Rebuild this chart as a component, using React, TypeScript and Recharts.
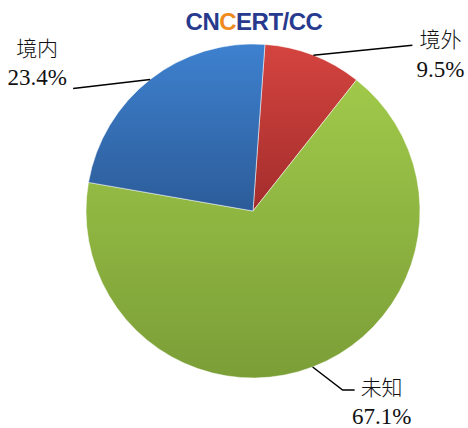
import { PieChart, Pie, Cell } from "recharts";

const categories = ["境外", "未知", "境内"];
const shares = [9.5, 67.1, 23.4];
const gradientIds = ["gRed", "gGreen", "gBlue"];

const data = categories.map((name, i) => ({ name, value: shares[i] }));

const RADIAN = Math.PI / 180;
const CJK_FONT = "Noto Sans CJK SC";
const NUM_FONT = "Liberation Serif";

// leader line layout relative to the arc midpoint of each slice
const layout: Record<string, { elbow: [number, number]; end: [number, number]; tx: number; ty: [number, number] }> = {
    境外: { elbow: [99, -10], end: [99, -10], tx: 28, ty: [2, 32] },
    未知: { elbow: [30, 23], end: [42, 23], tx: 27, ty: [5, 34] },
    境内: { elbow: [-77, 9], end: [-77, 9], tx: -36, ty: [-32, -3] },
};

function renderLabel(props: any) {
    const { cx, cy, midAngle, outerRadius, name, value } = props;
    const x0 = cx + outerRadius * Math.cos(-midAngle * RADIAN);
    const y0 = cy + outerRadius * Math.sin(-midAngle * RADIAN);
    const l = layout[name];
    const ex = x0 + l.elbow[0], ey = y0 + l.elbow[1];
    const x1 = x0 + l.end[0], y1 = y0 + l.end[1];
    return (
        <g>
            <polyline points={`${x0},${y0} ${ex},${ey} ${x1},${y1}`} fill="none" stroke="#000" strokeWidth={1.5} />
            <text x={x1 + l.tx} y={y1 + l.ty[0]} textAnchor="middle" fontFamily={CJK_FONT} fontSize={21} fontWeight={300} fill="#111">{name}</text>
            <text x={x1 + l.tx} y={y1 + l.ty[1]} textAnchor="middle" fontFamily={NUM_FONT} fontSize={23} fill="#111">{value.toFixed(1)}%</text>
        </g>
    );
}

export default function App() {
    return (
        <div style={{ position: "absolute", left: 0, top: 0, width: 468, height: 428, background: "#fff" }}>
            <div
                style={{
                    position: "absolute",
                    left: 0,
                    width: 468,
                    top: 10,
                    textAlign: "center",
                    fontFamily: "'Liberation Sans', Arial, sans-serif",
                    fontWeight: 700,
                    fontSize: 24,
                    lineHeight: "24px",
                    color: "#283a8e",
                    letterSpacing: -0.5,
                    paddingLeft: 40,
                    boxSizing: "border-box",
                }}
            >
                CN<span style={{ color: "#ef8a1e" }}>C</span>ERT/CC
            </div>
            <PieChart width={468} height={428} margin={{ top: 0, right: 0, bottom: 0, left: 0 }}>
                <defs>
                    <linearGradient id="gRed" x1="0" y1="0" x2="0" y2="1">
                        <stop offset="0%" stopColor="#d4443f" />
                        <stop offset="100%" stopColor="#a32d2c" />
                    </linearGradient>
                    <linearGradient id="gGreen" x1="0" y1="0" x2="0" y2="1">
                        <stop offset="0%" stopColor="#a0c94a" />
                        <stop offset="100%" stopColor="#7b9e37" />
                    </linearGradient>
                    <linearGradient id="gBlue" x1="0" y1="0" x2="0" y2="1">
                        <stop offset="0%" stopColor="#3e81cf" />
                        <stop offset="100%" stopColor="#2c5c99" />
                    </linearGradient>
                </defs>
                <Pie
                    data={data}
                    dataKey="value"
                    nameKey="name"
                    cx={253}
                    cy={211}
                    outerRadius={167}
                    startAngle={85.9}
                    endAngle={-274.1}
                    stroke="#ffffff"
                    strokeWidth={0.5}
                    label={renderLabel}
                    labelLine={false}
                    isAnimationActive={false}
                >
                    {data.map((d, i) => (
                        <Cell key={d.name} fill={`url(#${gradientIds[i]})`} />
                    ))}
                </Pie>
            </PieChart>
        </div>
    );
}
